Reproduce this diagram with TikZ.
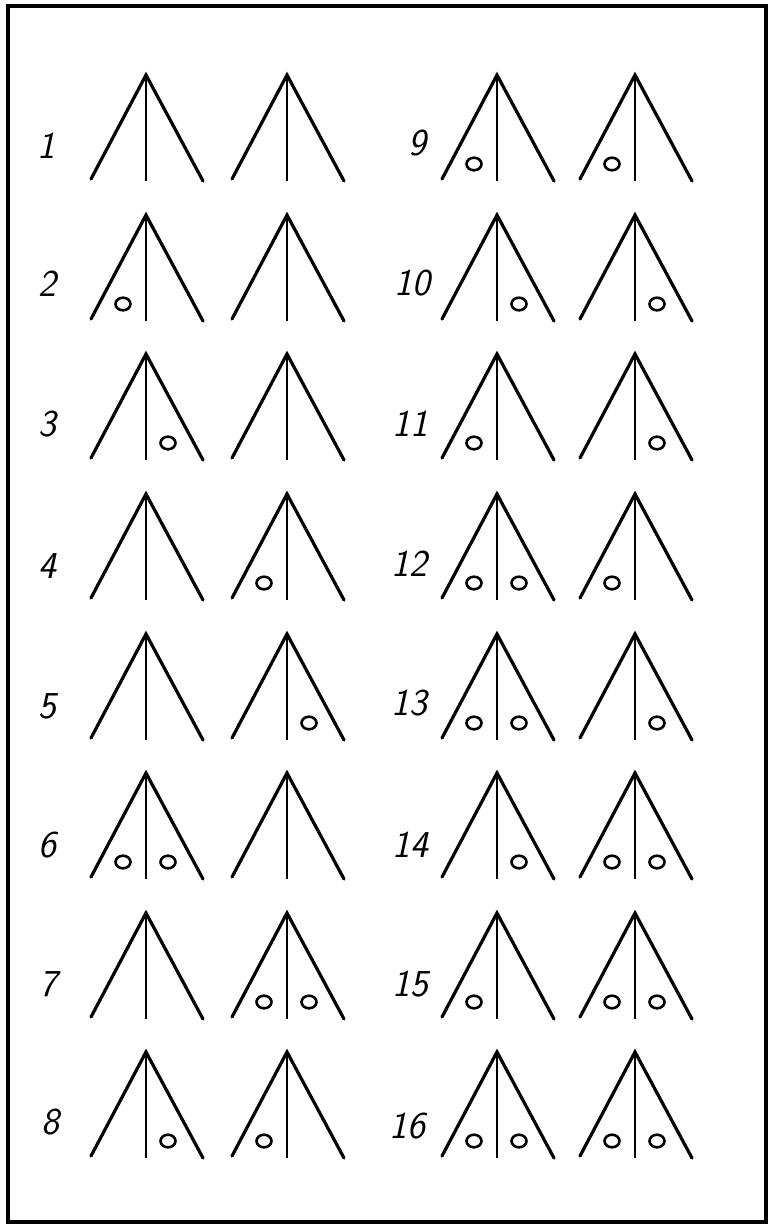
\documentclass[tikz,border=0pt]{standalone}
\usepackage{tikz}
\usetikzlibrary{shapes.geometric}

\begin{document}
\begin{tikzpicture}[
    x=0.5pt, y=-0.5pt,
    frameline/.style={line width=1.6pt},
    tentline/.style={line width=1.6pt, line cap=round, line join=miter},
    poleline/.style={line width=1.2pt},
    hole/.style={ellipse, draw, line width=1.3pt, minimum width=7.5pt, minimum height=6.3pt, inner sep=0pt},
    num/.style={font=\fontsize{19}{22}\selectfont\sffamily\slshape},
    pics/tent/.style={code={
        \coordinate (-apex) at (0,0);
        \coordinate (-lf) at (-55,104);
        \coordinate (-rf) at (57,106);
        \coordinate (-mid) at (0,106);
        \coordinate (-l) at (-23,89);
        \coordinate (-r) at (22,89);
        \draw[tentline] (-lf) -- (-apex) -- (-rf);
        \draw[poleline] (-apex) -- (-mid);
      }},
  ]
  \useasboundingbox (0,0) rectangle (772,1228);
  % Frame
  \draw[frameline] (8,6) rectangle (766,1222);
  % Left column
  \node[num] (n1) at (46,146) {1};
  \pic (t1a) at (146,75) {tent};
  \pic (t1b) at (287,75) {tent};
  \node[num] (n2) at (47,284) {2};
  \pic (t2a) at (146,215) {tent};
  \pic (t2b) at (287,215) {tent};
  \node[hole] (h2a) at (t2a-l) {};
  \node[num] (n3) at (47,424) {3};
  \pic (t3a) at (146,354) {tent};
  \pic (t3b) at (287,354) {tent};
  \node[hole] (h3a) at (t3a-r) {};
  \node[num] (n4) at (47,566) {4};
  \pic (t4a) at (146,494) {tent};
  \pic (t4b) at (287,494) {tent};
  \node[hole] (h4b) at (t4b-l) {};
  \node[num] (n5) at (47,706) {5};
  \pic (t5a) at (146,634) {tent};
  \pic (t5b) at (287,634) {tent};
  \node[hole] (h5b) at (t5b-r) {};
  \node[num] (n6) at (47,845) {6};
  \pic (t6a) at (146,773) {tent};
  \pic (t6b) at (287,773) {tent};
  \node[hole] (h6a) at (t6a-l) {};
  \node[hole] (h6b) at (t6a-r) {};
  \node[num] (n7) at (48,984) {7};
  \pic (t7a) at (146,913) {tent};
  \pic (t7b) at (287,913) {tent};
  \node[hole] (h7a) at (t7b-l) {};
  \node[hole] (h7b) at (t7b-r) {};
  \node[num] (n8) at (50,1122) {8};
  \pic (t8a) at (146,1052) {tent};
  \pic (t8b) at (287,1052) {tent};
  \node[hole] (h8a) at (t8a-r) {};
  \node[hole] (h8b) at (t8b-l) {};
  % Right column
  \node[num] (n9) at (417,143) {9};
  \pic (t9a) at (497,75) {tent};
  \pic (t9b) at (635,75) {tent};
  \node[hole] (h9a) at (t9a-l) {};
  \node[hole] (h9b) at (t9b-l) {};
  \node[num] (n10) at (412,283) {10};
  \pic (t10a) at (497,215) {tent};
  \pic (t10b) at (635,215) {tent};
  \node[hole] (h10a) at (t10a-r) {};
  \node[hole] (h10b) at (t10b-r) {};
  \node[num] (n11) at (410,424) {11};
  \pic (t11a) at (497,354) {tent};
  \pic (t11b) at (635,354) {tent};
  \node[hole] (h11a) at (t11a-l) {};
  \node[hole] (h11b) at (t11b-r) {};
  \node[num] (n12) at (409,564) {12};
  \pic (t12a) at (497,494) {tent};
  \pic (t12b) at (635,494) {tent};
  \node[hole] (h12a) at (t12a-l) {};
  \node[hole] (h12b) at (t12a-r) {};
  \node[hole] (h12c) at (t12b-l) {};
  \node[num] (n13) at (409,703) {13};
  \pic (t13a) at (497,634) {tent};
  \pic (t13b) at (635,634) {tent};
  \node[hole] (h13a) at (t13a-l) {};
  \node[hole] (h13b) at (t13a-r) {};
  \node[hole] (h13c) at (t13b-r) {};
  \node[num] (n14) at (410,845) {14};
  \pic (t14a) at (497,773) {tent};
  \pic (t14b) at (635,773) {tent};
  \node[hole] (h14a) at (t14a-r) {};
  \node[hole] (h14b) at (t14b-l) {};
  \node[hole] (h14c) at (t14b-r) {};
  \node[num] (n15) at (410,984) {15};
  \pic (t15a) at (497,913) {tent};
  \pic (t15b) at (635,913) {tent};
  \node[hole] (h15a) at (t15a-l) {};
  \node[hole] (h15b) at (t15b-l) {};
  \node[hole] (h15c) at (t15b-r) {};
  \node[num] (n16) at (407,1126) {16};
  \pic (t16a) at (497,1052) {tent};
  \pic (t16b) at (635,1052) {tent};
  \node[hole] (h16a) at (t16a-l) {};
  \node[hole] (h16b) at (t16a-r) {};
  \node[hole] (h16c) at (t16b-l) {};
  \node[hole] (h16d) at (t16b-r) {};
\end{tikzpicture}
\end{document}
